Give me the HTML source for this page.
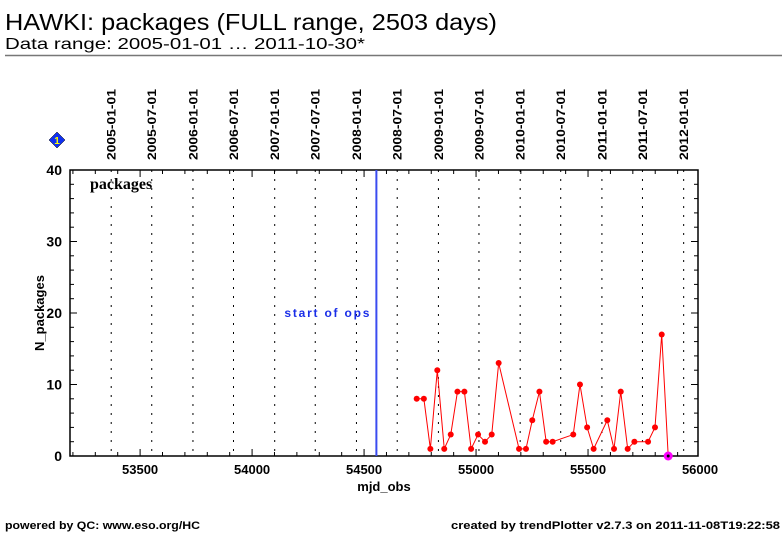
<!DOCTYPE html>
<html><head><meta charset="utf-8"><style>
html,body{margin:0;padding:0;background:#fff;}
svg{display:block;font-family:"Liberation Sans",sans-serif;}
</style></head><body>
<svg id="chart" width="782" height="542" viewBox="0 0 782 542">
<text x="5" y="30" font-size="23" textLength="492" lengthAdjust="spacingAndGlyphs">HAWKI: packages (FULL range, 2503 days)</text>
<text x="5" y="49" font-size="16" textLength="360" lengthAdjust="spacingAndGlyphs">Data range: 2005-01-01 … 2011-10-30*</text>
<line x1="5" y1="55.5" x2="782" y2="55.5" stroke="#777" stroke-width="1.5"/>
<g id="plot"></g>
<text x="5" y="529" font-size="11" font-weight="bold" textLength="195" lengthAdjust="spacingAndGlyphs">powered by QC: www.eso.org/HC</text>
<text x="451" y="529" font-size="11" font-weight="bold" textLength="329" lengthAdjust="spacingAndGlyphs">created by trendPlotter v2.7.3 on 2011-11-08T19:22:58</text>
</svg>
<script>
const mjdValues=[54735,54767,54796,54827,54858,54887,54917,54948,54978,55009,55040,55070,55101,55192,55223,55251,55283,55313,55342,55434,55464,55496,55525,55586,55616,55646,55677,55707,55768,55799,55829];
const packageCounts=[8,8,1,12,1,3,9,9,1,3,2,3,13,1,1,5,9,2,2,3,10,4,1,5,1,9,1,2,2,4,17];
const lastMjd=[55858];
const lastCount=[0];
const xTickValues=[53500,54000,54500,55000,55500,56000];
const yTickValues=[0,10,20,30,40];
const dateLabels=["2005-01-01","2005-07-01","2006-01-01","2006-07-01","2007-01-01","2007-07-01","2008-01-01","2008-07-01","2009-01-01","2009-07-01","2010-01-01","2010-07-01","2011-01-01","2011-07-01","2012-01-01"];
const dateMjds=[53371,53552,53736,53917,54101,54282,54466,54648,54832,55013,55197,55378,55562,55743,55927];
const startOfOps=[54555];

const L=70,R=698,T=170,B=456;
const xMin=53187,xMax=55991,yMin=0,yMax=40;
const xs=v=>L+(v-xMin)/(xMax-xMin)*(R-L);
const ys=v=>B-(v-yMin)/(yMax-yMin)*(B-T);
const NS="http://www.w3.org/2000/svg";
const g=document.getElementById('plot');
function mk(tag,attrs,parent){const e=document.createElementNS(NS,tag);for(const k in attrs)e.setAttribute(k,attrs[k]);(parent||g).appendChild(e);return e;}

dateMjds.forEach((m,i)=>{
  const x=xs(m);
  const ln=mk('line',{x1:x,y1:T,x2:x,y2:B,stroke:'#000','stroke-width':1,'stroke-dasharray':'2,7'});
  
  
  const t=mk('text',{x:0,y:0,'font-size':12,'font-weight':'bold',textLength:71,lengthAdjust:'spacingAndGlyphs',transform:`translate(${x+4.5},160) rotate(-90)`});
  t.textContent=dateLabels[i];
  
  
});

const fr=mk('rect',{x:L,y:T,width:R-L,height:B-T,fill:'none',stroke:'#000','stroke-width':1.5});



for(let v=53200;v<=55900;v+=100){
  const x=xs(v);const major=v%500===0;const len=major?7:4;
  mk('line',{x1:x,y1:B,x2:x,y2:B-len,stroke:'#000','stroke-width':1});
  mk('line',{x1:x,y1:T,x2:x,y2:T+len,stroke:'#000','stroke-width':1});
}
xTickValues.forEach(v=>{
  const t=mk('text',{x:xs(v),y:474,'font-size':13,'font-weight':'bold','text-anchor':'middle'});
  t.textContent=v;
  
  
});
for(let v=0;v<=40;v+=2){
  const y=ys(v);const len=v%10===0?7:4;
  mk('line',{x1:L,y1:y,x2:L+len,y2:y,stroke:'#000','stroke-width':1});
  mk('line',{x1:R,y1:y,x2:R-len,y2:y,stroke:'#000','stroke-width':1});
}
yTickValues.forEach(v=>{
  const t=mk('text',{x:62,y:ys(v)+5,'font-size':14,'font-weight':'bold','text-anchor':'end'});
  t.textContent=v;
  
  
});
const xt=mk('text',{x:384,y:491,'font-size':13,'font-weight':'bold','text-anchor':'middle'});
xt.textContent='mjd_obs';


const yt=mk('text',{x:0,y:0,'font-size':13,'font-weight':'bold','text-anchor':'middle',transform:'translate(44,313) rotate(-90)'});
yt.textContent='N_packages';


const pl=mk('text',{x:90,y:189,'font-size':16,'font-family':'Liberation Serif, serif','font-weight':'bold'});
pl.textContent='packages';



const so=mk('line',{x1:xs(startOfOps[0]),y1:T,x2:xs(startOfOps[0]),y2:B,stroke:'#3a4cf0','stroke-width':2});


const st=mk('text',{x:xs(startOfOps[0])-7,y:317,'font-size':12,'font-weight':'bold','fill':'#1a2ee8','text-anchor':'end',textLength:85,lengthAdjust:'spacing'});
st.textContent='start of ops';



const pts=mjdValues.map((m,i)=>xs(m)+','+ys(packageCounts[i])).join(' ')+' '+xs(lastMjd[0])+','+ys(lastCount[0]);
const poly=mk('polyline',{points:pts,fill:'none',stroke:'#f00','stroke-width':1});


mjdValues.forEach((m,i)=>{
  const c=mk('circle',{cx:xs(m),cy:ys(packageCounts[i]),r:3,fill:'#f00'});
  
  
});
const lp=mk('circle',{cx:xs(lastMjd[0]),cy:ys(lastCount[0]),r:4.5,fill:'#f0f'});


mk('circle',{cx:xs(lastMjd[0]),cy:ys(lastCount[0]),r:1.5,fill:'#000'});

const dm=mk('polygon',{points:'57,132 65,140 57,148 49,140',fill:'#1030f0',stroke:'#000','stroke-width':0.5});


const dt=mk('text',{x:57,y:144,'font-size':10,'font-weight':'bold',fill:'#ff0','text-anchor':'middle'});
dt.textContent='1';


</script>
</body></html>
